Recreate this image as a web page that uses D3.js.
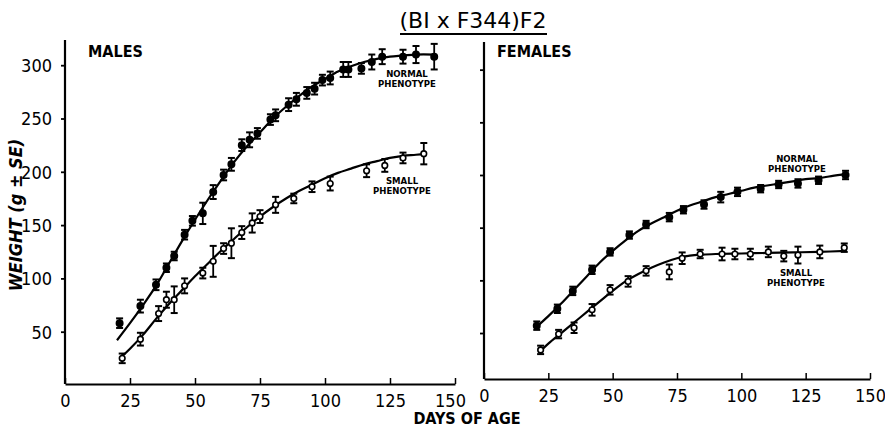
<!DOCTYPE html>
<html><head><meta charset="utf-8">
<script src="https://cdn.jsdelivr.net/npm/d3@7"></script>
<style>
body{margin:0;background:#fff;}
svg{display:block;}
text{fill:#000;}
</style></head>
<body><svg id="c" width="885" height="430"></svg>
<script>
// ---------- DATA ----------
const xTicks = [0,25,50,75,100,125,150];
const yTicks = [50,100,150,200,250,300];

// Males, normal phenotype
const maleNormalDays = [21,29,35,39,42,46,49,53,57,61,64,68,71,74,79,81,86,89,93,96,99,102,107,109,114,118,122,130,135,142];
const maleNormalWt   = [58,74,94,110,121,141,154,161,181,197,207,225,230,236,249,253,263,268,274,278,286,288,296,296,297,303,308,308,310,308];
const maleNormalSE   = [4.5,6,5,4,4,4.5,4.5,10,6.5,5,6,5.5,7,5,5,5.5,6,6,5.5,5.5,5,6,7,7,5,7,7,6.5,8,12];

// Males, small phenotype
const maleSmallDays = [22,29,36,39,42,46,53,57,61,64,68,72,75,81,88,95,102,116,123,130,138];
const maleSmallWt   = [25,43,67,80,80,93,105,116,128,133,143,152,158,169,175,186,189,201,206,213,217];
const maleSmallSE   = [4.5,6,7,7.5,12.5,7,5,14.5,5,14,6,9,6,7.5,4.5,5,6.5,6,6,5,10];

// Females, normal phenotype
const femNormalDays = [20.5,28.5,34.5,42,49,56.5,63,72,77.5,85.5,92,98.5,107.5,114.5,122,130,140.5];
const femNormalWt   = [57,73,90,110,127,143,153,160,167,172,179,184,187,191,192,195,200];
const femNormalSE   = [4,4,4,4,3.5,3.5,3.5,4,3.5,4,5,4,3.5,3.5,4,3.5,4];

// Females, small phenotype
const femSmallDays = [22,29,35,42,49,56,63,72,77,84,92.5,97.5,103.5,110.5,116.5,122,130.5,140];
const femSmallWt   = [34,49,55,72,91,99,109,108,121,125,125,125,125,127,123,124,127,131];
const femSmallSE   = [4,4,5,5.5,4.5,5,4.5,7,5.5,4,6,5,5,5,5,8,6,4];

// Fitted growth curves
const fitMaleNormalDays = [20,25,30,35,40,45,50,55,60,65,70,75,80,85,90,95,100,105,110,115,120,125,130,135,142];
const fitMaleNormalWt   = [42,58,75,93,114,135,155,174,192,209,224,237,250,261,271,280,287,294,299,303,306,308,309,310,310];
const fitMaleSmallDays  = [22,25,30,35,40,45,50,55,60,65,70,75,80,85,90,95,100,105,110,115,120,125,130,135,139];
const fitMaleSmallWt    = [27,34,47,62,76,89,102,114,126,137,148,158,167,175,182,188,194,199,203,207,210,213,215,216,217];
const fitFemNormalDays  = [20.5,25,30,35,40,45,50,55,60,65,70,75,80,85,90,95,100,105,110,115,120,125,130,135,141];
const fitFemNormalWt    = [56,66,78,91,104,117,128,138,147,154,160,166,171,175,179,182,185,188,190,192,194,196,197,199,201];
const fitFemSmallDays   = [22,25,30,35,40,45,50,55,60,65,70,75,80,85,90,100,110,120,130,141];
const fitFemSmallWt     = [33,40,50,60,70,80,90,99,106,112,117,121,123.5,124.5,125,125.5,126,126.5,127,128];

// ---------- DRAW ----------
const svg = d3.select('#c');
const tickFont = '"Liberation Sans Narrow", "DejaVu Sans Condensed", "Liberation Sans", sans-serif';
const labFont = '"Liberation Sans Narrow", "DejaVu Sans Condensed", "Liberation Sans", sans-serif';

const panels = [
  {x: d3.scaleLinear([0,150],[65,455]), y: d3.scaleLinear([0,300],[385,65.2]), base: 384, top: 40, showY: true,
   title: 'MALES', tx: 88, lastDx: -5,
   normal: [maleNormalDays, maleNormalWt, maleNormalSE], small: [maleSmallDays, maleSmallWt, maleSmallSE],
   fitN: [fitMaleNormalDays, fitMaleNormalWt], fitS: [fitMaleSmallDays, fitMaleSmallWt],
   lblN: [407, 77], lblS: [402, 184]},
  {x: d3.scaleLinear([0,150],[484,870]), y: d3.scaleLinear([0,200],[385.7,175]), base: 379, top: 42, showY: false,
   title: 'FEMALES', tx: 497, lastDx: 0,
   normal: [femNormalDays, femNormalWt, femNormalSE], small: [femSmallDays, femSmallWt, femSmallSE],
   fitN: [fitFemNormalDays, fitFemNormalWt], fitS: [fitFemSmallDays, fitFemSmallWt],
   lblN: [797, 162], lblS: [796, 276]}
];

panels.forEach(p => {
  const g = svg.append('g');
  // y axis
  const ya = d3.axisLeft(p.y).tickValues(yTicks).tickSize(4).tickPadding(9)
    .tickFormat(p.showY ? d3.format('d') : () => '');
  const yg = g.append('g').attr('transform', `translate(${p.x(0)},0)`).call(ya);
  yg.select('.domain').remove();
  yg.selectAll('line').attr('stroke','#000').attr('stroke-width',1.8);
  yg.selectAll('text').attr('font-family', tickFont).attr('font-size', 18).attr('dy','0.35em');
  g.append('line').attr('x1', p.x(0)).attr('x2', p.x(0)).attr('y1', p.top).attr('y2', p.base)
    .attr('stroke','#000').attr('stroke-width',2.2);
  // x axis
  const xa = d3.axisBottom(p.x).tickValues(xTicks).tickSizeInner(-6).tickSizeOuter(0).tickPadding(10)
    .tickFormat(d3.format('d'));
  const xg = g.append('g').attr('transform', `translate(0,${p.base})`).call(xa);
  xg.select('.domain').attr('stroke','#000').attr('stroke-width',2.2);
  xg.selectAll('line').attr('stroke','#000').attr('stroke-width',1.5);
  xg.selectAll('text').attr('font-family', tickFont).attr('font-size', 18)
    .attr('dx', d => d === 150 ? p.lastDx : 0);

  // fitted curves
  const line = d3.line().curve(d3.curveCatmullRom.alpha(0.5)).x(d => p.x(d[0])).y(d => p.y(d[1]));
  [p.fitN, p.fitS].forEach(f => {
    const pts = f[0].map((d,i) => [d, f[1][i]]);
    g.append('path').attr('d', line(pts)).attr('fill','none').attr('stroke','#000').attr('stroke-width',2.2);
  });

  // points and error bars
  [[p.normal, true], [p.small, false]].forEach(([s, filled]) => {
    const data = s[0].map((d,i) => ({d, w: s[1][i], se: s[2][i]}));
    const eg = g.append('g');
    data.forEach(o => {
      const cx = p.x(o.d), y1 = p.y(o.w + o.se), y2 = p.y(o.w - o.se);
      eg.append('line').attr('x1',cx).attr('x2',cx).attr('y1',y1).attr('y2',y2).attr('stroke','#000').attr('stroke-width',1.8);
      eg.append('line').attr('x1',cx-3.5).attr('x2',cx+3.5).attr('y1',y1).attr('y2',y1).attr('stroke','#000').attr('stroke-width',2);
      eg.append('line').attr('x1',cx-3.5).attr('x2',cx+3.5).attr('y1',y2).attr('y2',y2).attr('stroke','#000').attr('stroke-width',2);
      eg.append('circle').attr('cx',cx).attr('cy',p.y(o.w)).attr('r', filled ? 3.2 : 2.8)
        .attr('fill', filled ? '#000' : '#fff').attr('stroke','#000').attr('stroke-width',1.6);
    });
  });

  // panel title
  g.append('text').attr('x', p.tx).attr('y', 57).text(p.title)
    .attr('font-family', labFont).attr('font-weight','bold').attr('font-size', 16);

  // phenotype labels
  [[p.lblN,'NORMAL'],[p.lblS,'SMALL']].forEach(([pos, name]) => {
    const t = g.append('text').attr('text-anchor','middle').attr('font-family', labFont)
      .attr('font-weight','bold').attr('font-size', 9.5);
    t.append('tspan').attr('x', pos[0]).attr('y', pos[1]).text(name);
    t.append('tspan').attr('x', pos[0]).attr('y', pos[1] + 10).text('PHENOTYPE');
  });
});

// main title
svg.append('text').attr('x', 473).attr('y', 28).attr('text-anchor','middle')
  .attr('font-family', '"DejaVu Sans", "Liberation Sans", sans-serif').attr('font-size', 22).text('(BI x F344)F2');
svg.append('line').attr('x1', 400).attr('x2', 547).attr('y1', 34).attr('y2', 34)
  .attr('stroke','#000').attr('stroke-width',2.2);

// axis titles
svg.append('text').attr('transform','translate(22,215) rotate(-90)').attr('text-anchor','middle')
  .attr('font-family', labFont).attr('font-style','italic').attr('font-weight','bold').attr('font-size', 18)
  .text('WEIGHT (g ± SE)');
svg.append('text').attr('x', 467).attr('y', 424).attr('text-anchor','middle')
  .attr('font-family', labFont).attr('font-weight','bold').attr('font-size', 16).text('DAYS OF AGE');
</script></body></html>
